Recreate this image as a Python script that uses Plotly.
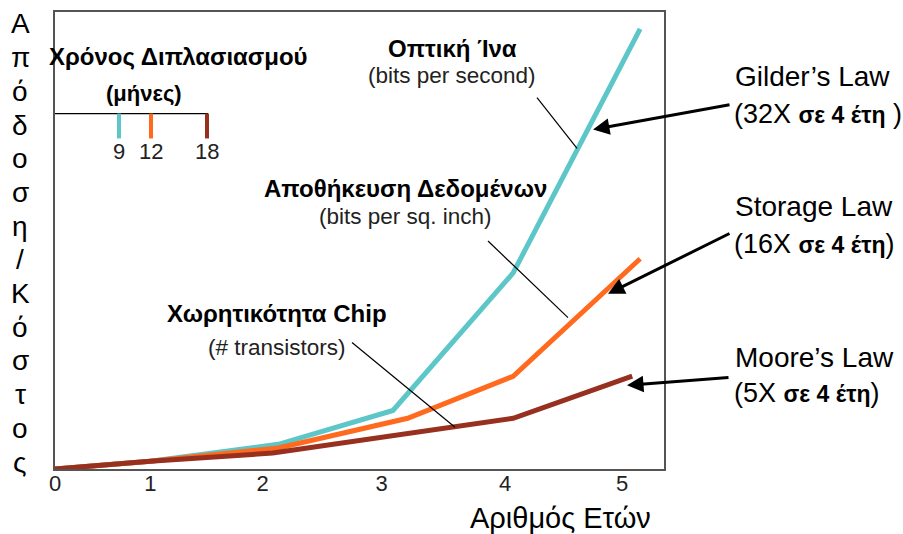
import plotly.graph_objects as go

# --- data -------------------------------------------------------------
# horizontal position of each vertex, in years along the axis
fiber_years = [0, 0.84, 1.97, 2.98, 4.04, 5.16]
fiber_perf = [0, 1.7, 5.4, 12.8, 42.9, 96.3]

storage_years = [0, 0.84, 1.97, 3.11, 4.04, 5.16]
storage_perf = [0, 1.7, 4.6, 11.1, 20.3, 46.0]

chip_years = [0, 0.84, 1.92, 4.04, 5.09]
chip_perf = [0, 1.7, 3.5, 11.1, 20.3]

tick_labels = ["0", "1", "2", "3", "4", "5"]
tick_positions = [0, 0.84, 1.83, 2.88, 3.97, 5.0]

doubling_months = ["9", "12", "18"]

COL_FIBER = "#5CC6C8"
COL_STORAGE = "#FF6A1E"
COL_CHIP = "#983020"

FONT = "Liberation Sans, Arial, sans-serif"

# --- page geometry (pixels) -----------------------------------------
W, H = 903, 534
L, R, T, B = 55, 664, 10, 469


def px(x):
    return (x - L) / (R - L)


def py(y):
    return (B - y) / (B - T)


def text_at(x, y, text, size, anchor="center", color="black"):
    return dict(xref="paper", yref="paper", x=px(x), y=py(y), text=text,
                showarrow=False, xanchor=anchor, yanchor="middle",
                font=dict(family=FONT, size=size, color=color))


fig = go.Figure()
for xs, ys, col in [
    (fiber_years, fiber_perf, COL_FIBER),
    (storage_years, storage_perf, COL_STORAGE),
    (chip_years, chip_perf, COL_CHIP),
]:
    fig.add_trace(go.Scatter(x=xs, y=ys, mode="lines",
                             line=dict(color=col, width=5),
                             showlegend=False, hoverinfo="skip"))

shapes = []
annotations = []

# doubling-time key in the upper-left corner
legend_tick_px = [119, 151, 207]
shapes.append(dict(type="line", xref="paper", yref="paper",
                   x0=px(55), x1=px(208), y0=py(112), y1=py(112),
                   line=dict(color="black", width=1.2)))
for xp, col, lab in zip(legend_tick_px, [COL_FIBER, COL_STORAGE, COL_CHIP], doubling_months):
    shapes.append(dict(type="line", xref="paper", yref="paper",
                       x0=px(xp), x1=px(xp), y0=py(112), y1=py(137),
                       line=dict(color=col, width=4)))
    annotations.append(text_at(xp, 150, lab, 22, color="#222"))
annotations.append(text_at(178, 55, "<b>Χρόνος Διπλασιασμού</b>", 24))
annotations.append(text_at(144, 92, "<b>(μήνες)</b>", 22))

# series labels with thin leader lines
series_labels = [
    ("Οπτική Ίνα", "(bits per second)", 452, 47, 74, (537, 96, 577, 147)),
    ("Αποθήκευση Δεδομένων", "(bits per sq. inch)", 405, 187, 215, (488, 240, 568, 317)),
    ("Χωρητικότητα Chip", "(# transistors)", 277, 313, 347, (352, 342, 455, 427)),
]
for title, sub, cx, ty, sy, (x0, y0, x1, y1) in series_labels:
    annotations.append(text_at(cx, ty, "<b>" + title + "</b>", 24))
    annotations.append(text_at(cx, sy, sub, 22.5, color="#222"))
    shapes.append(dict(type="line", xref="paper", yref="paper",
                       x0=px(x0), y0=py(y0), x1=px(x1), y1=py(y1),
                       line=dict(color="black", width=1.2)))

# growth-law captions on the right with arrows
BOLD_SPAN = '<span style="font-size:23px"><b>σε 4 έτη</b></span>'
laws = [
    ("Gilder’s Law", "(32X " + BOLD_SPAN + " )", 75, 112, (593, 128), (731, 103)),
    ("Storage Law", "(16X " + BOLD_SPAN + ")", 205, 243, (608, 293), (731, 232)),
    ("Moore’s Law", "(5X " + BOLD_SPAN + ")", 357, 393, (627, 385), (730, 377)),
]
for name, growth, y_name, y_growth, (tx, ty), (hx, hy) in laws:
    annotations.append(text_at(733, y_name, name, 28, anchor="left"))
    annotations.append(text_at(732, y_growth, growth, 27, anchor="left"))
    annotations.append(dict(xref="paper", yref="paper", x=px(tx), y=py(ty),
                            ax=hx - tx, ay=hy - ty, text="", showarrow=True,
                            arrowhead=2, arrowsize=1.1, arrowwidth=3,
                            arrowcolor="black", standoff=0, startstandoff=0))

# vertical y-axis title, one letter per row
y_title = "Απόδοση/Κόστος"
for i, ch in enumerate(y_title):
    annotations.append(text_at(20, 22 + i * 33.85, ch, 28))

# x-axis title
annotations.append(text_at(560, 518, "Αριθμός Ετών", 29))

fig.update_layout(
    width=W, height=H,
    margin=dict(l=L, r=W - R, t=T, b=H - B),
    paper_bgcolor="white", plot_bgcolor="white",
    shapes=shapes, annotations=annotations,
    xaxis=dict(range=[0, (R - L) / 113.4], tickvals=tick_positions, ticktext=tick_labels,
               showgrid=False, zeroline=False, ticks="", ticklabelstandoff=-6,
               showline=True, linecolor="#555", linewidth=1.5, mirror=True,
               tickfont=dict(family=FONT, size=22, color="#222"), fixedrange=True),
    yaxis=dict(range=[0, 100], showticklabels=False, showgrid=False, zeroline=False,
               ticks="", showline=True, linecolor="#555", linewidth=1.5, mirror=True,
               fixedrange=True),
)

fig.write_html("out.html", config={"displayModeBar": False})
